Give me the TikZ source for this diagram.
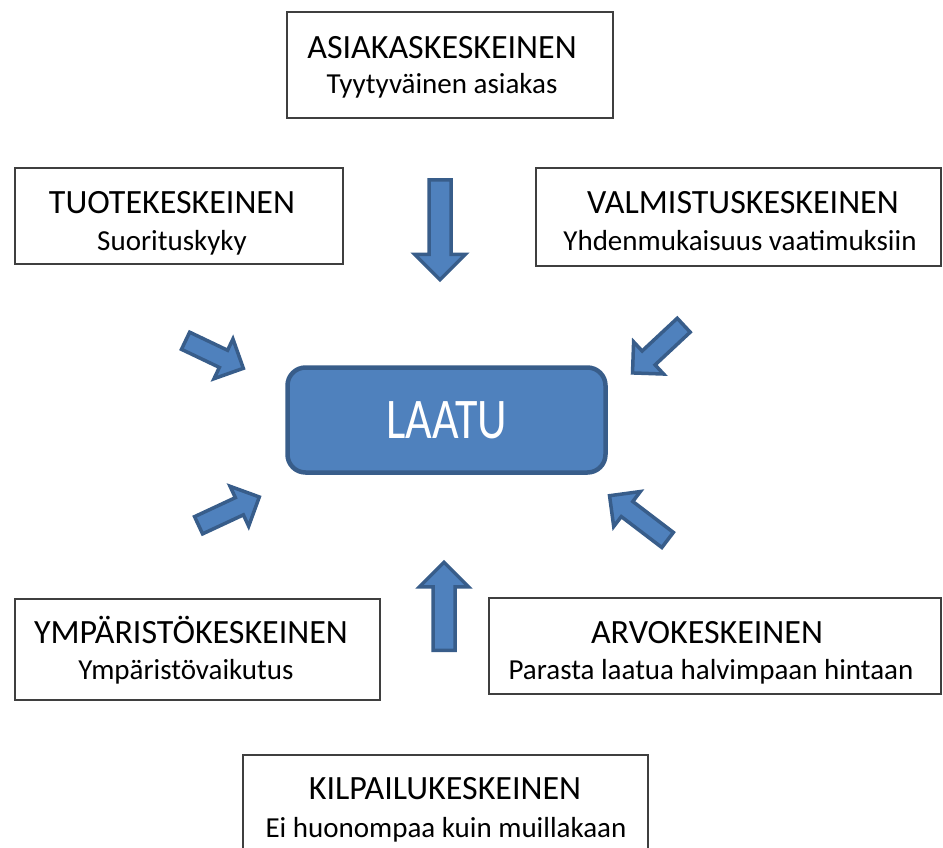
\documentclass[tikz,border=0pt]{standalone}
\usepackage{fontspec}
\setmainfont{Carlito}
\usetikzlibrary{shapes.arrows}
\definecolor{qfill}{HTML}{4F81BD}
\definecolor{qline}{HTML}{385D8A}
\definecolor{boxline}{HTML}{3F3F3F}
\begin{document}
\begin{tikzpicture}[x=1pt,y=-1pt,
  box/.style={draw=boxline, line width=1.2pt, fill=white, inner sep=0pt},
  ttl/.style={anchor=base, font=\fontsize{34}{40}\selectfont, inner sep=0pt},
  subt/.style={anchor=base, font=\fontsize{29}{34}\selectfont, inner sep=0pt},
  barrow/.style n args={3}{single arrow, draw=qline, fill=qfill, line width=3.5pt,
     single arrow head indent=0pt, inner xsep=0pt, inner ysep=#1,
     single arrow head extend=#2, minimum height=#3, anchor=tail}
]
\useasboundingbox[fill=white] (0,0) rectangle (943,847);

% boxes
\node[box, minimum width=326pt, minimum height=106pt] (asiakasbox) at (450,65) {};
\node[ttl] (asiakast) at (442,58) {ASIAKASKESKEINEN};
\node[subt] (asiakass) at (442,93) {Tyytyväinen asiakas};

\node[box, minimum width=328pt, minimum height=96pt] (tuotebox) at (179,216) {};
\node[ttl] (tuotet) at (172,213) {TUOTEKESKEINEN};
\node[subt] (tuotes) at (172,250) {Suorituskyky};

\node[box, minimum width=405pt, minimum height=98pt] (valmbox) at (738.5,217) {};
\node[ttl] (valmt) at (743,213) {VALMISTUSKESKEINEN};
\node[subt] (valms) at (740,250) {Yhdenmukaisuus vaatimuksiin};

\node[box, minimum width=365pt, minimum height=101pt] (ympbox) at (197.5,649.5) {};
\node[ttl] (ympt) at (191,643) {YMPÄRISTÖKESKEINEN};
\node[subt] (ymps) at (186,679) {Ympäristövaikutus};

\node[box, minimum width=452pt, minimum height=96pt] (arvobox) at (715,646) {};
\node[ttl] (arvot) at (707,643) {ARVOKESKEINEN};
\node[subt] (arvos) at (711,679) {Parasta laatua halvimpaan hintaan};

\node[box, minimum width=405pt, minimum height=110pt] (kilpbox) at (445.5,810) {};
\node[ttl] (kilpt) at (445,799) {KILPAILUKESKEINEN};
\node[subt] (kilps) at (446,837) {Ei huonompaa kuin muillakaan};

% centre
\node[draw=qline, fill=qfill, line width=4.5pt, rounded corners=18pt,
      minimum width=318pt, minimum height=105pt, inner sep=0pt,
      text=white, font=\fontsize{46}{50}\selectfont] (laatu) at (446.5,420)
      {\scalebox{1}[1.25]{LAATU}};

% block arrows
\node[barrow={9.25pt}{14.5pt}{100pt}, rotate=-90] (a1) at (440,178) {};
\node[barrow={9.25pt}{13.5pt}{88pt}, rotate=90] (a2) at (444,652) {};
\node[barrow={7.75pt}{12.5pt}{64pt}, rotate=-25.5] (a3) at (184,340) {};
\node[barrow={7.75pt}{12.5pt}{70pt}, rotate=-137] (a4) at (685,324) {};
\node[barrow={7.75pt}{12.5pt}{67pt}, rotate=25] (a5) at (197,526) {};
\node[barrow={7.75pt}{12.5pt}{73pt}, rotate=142.7] (a6) at (669,541) {};
\end{tikzpicture}
\end{document}
